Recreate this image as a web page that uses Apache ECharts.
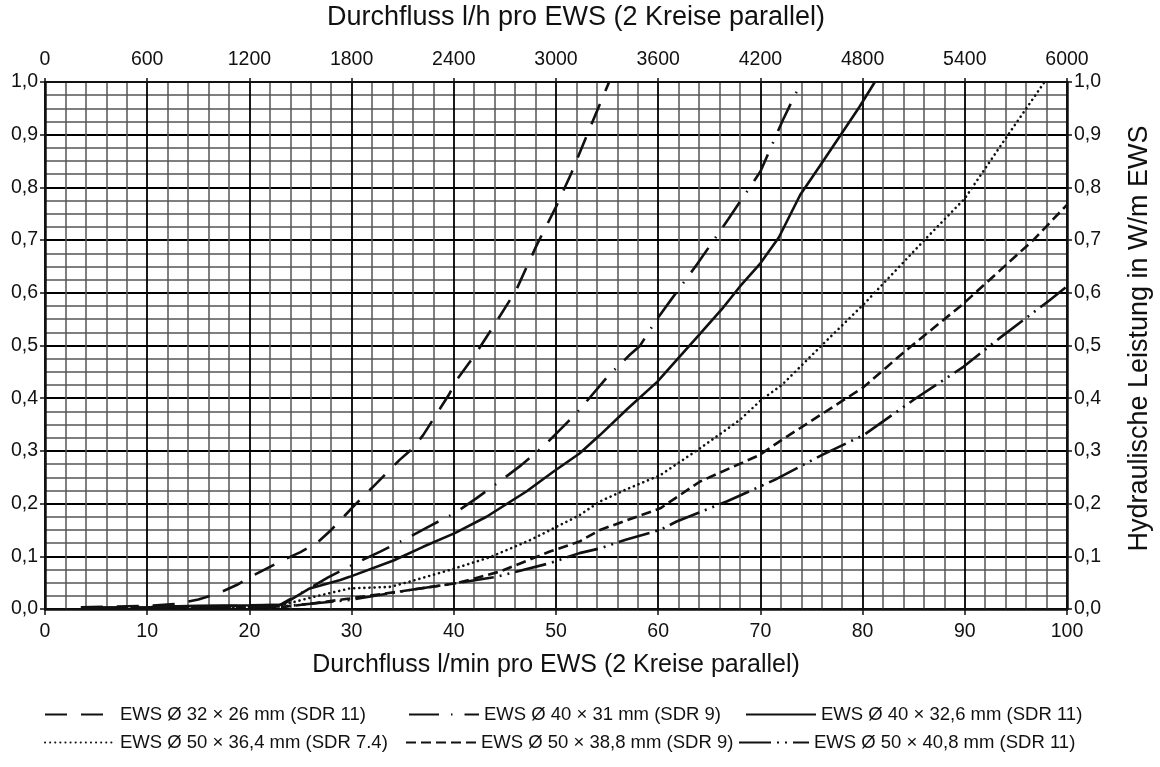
<!DOCTYPE html>
<html><head><meta charset="utf-8">
<script src="https://cdn.jsdelivr.net/npm/echarts@6/dist/echarts.min.js"></script>
<style>html,body{margin:0;padding:0;background:#fff}#c{width:1160px;height:767px}</style>
</head><body><div id="c"></div>
<script>
// ---- data ----
const bottomTicks = [0,10,20,30,40,50,60,70,80,90,100];
const topTicks = [0,600,1200,1800,2400,3000,3600,4200,4800,5400,6000];
const yTicks = [0,0.1,0.2,0.3,0.4,0.5,0.6,0.7,0.8,0.9,1.0];

const names = [
  'EWS Ø 32 × 26 mm (SDR 11)',
  'EWS Ø 40 × 31 mm (SDR 9)',
  'EWS Ø 40 × 32,6 mm (SDR 11)',
  'EWS Ø 50 × 36,4 mm (SDR 7.4)',
  'EWS Ø 50 × 38,8 mm (SDR 9)',
  'EWS Ø 50 × 40,8 mm (SDR 11)'
];

const s1 = [[3.5,0.003],[10,0.006],[13,0.01],[15,0.018],[17,0.03],[18.8,0.046],[20.2,0.062],[23,0.09],[25,0.108],[26.6,0.125],[28,0.15],[30.3,0.197],[32,0.23],[34.7,0.283],[36,0.305],[37,0.33],[39.5,0.406],[40.3,0.435],[42,0.48],[44,0.54],[46.1,0.605],[48.1,0.69],[50,0.763],[51.5,0.827],[53.3,0.912],[55.2,1.0]];
const s2 = [[5,0.002],[10,0.004],[15,0.005],[20,0.006],[23,0.008],[25.5,0.035],[27.7,0.06],[30.4,0.087],[32.8,0.109],[35.4,0.134],[37.5,0.156],[40.1,0.182],[42.2,0.21],[44.7,0.245],[46.6,0.273],[48.9,0.311],[50.7,0.346],[52.3,0.378],[55,0.44],[57.2,0.482],[58.2,0.499],[59.8,0.548],[61.3,0.588],[63.8,0.654],[66.9,0.741],[70,0.83],[72.2,0.928],[74,1.0]];
const s3 = [[11,0.004],[15,0.006],[20,0.007],[23.2,0.008],[25.9,0.039],[28.9,0.055],[29.8,0.061],[34.1,0.092],[37,0.118],[40.1,0.144],[43.2,0.175],[47.1,0.223],[49.7,0.26],[52.3,0.295],[54.3,0.33],[57,0.38],[59.9,0.431],[62.1,0.479],[64,0.52],[66.4,0.573],[68,0.612],[70,0.656],[71.8,0.705],[73.9,0.786],[75.8,0.84],[77.8,0.898],[79.7,0.953],[81.2,1.0]];
const s4 = [[4,0.002],[10,0.003],[15,0.004],[20,0.005],[23.3,0.008],[26.3,0.023],[29.8,0.039],[33.8,0.042],[35.7,0.052],[39.6,0.074],[43.5,0.098],[47.5,0.131],[52.3,0.178],[54.3,0.204],[57,0.228],[60.2,0.254],[64.1,0.305],[68,0.359],[70.1,0.397],[72.1,0.425],[76.2,0.504],[80.2,0.58],[85.9,0.697],[90,0.779],[94.1,0.896],[97.8,1.0]];
const s5 = [[4,0.002],[10,0.003],[15,0.003],[20,0.003],[23.3,0.004],[26,0.01],[29.8,0.02],[35.7,0.036],[40.3,0.049],[44.5,0.071],[49.4,0.109],[52.3,0.128],[54.3,0.15],[60.2,0.191],[64.1,0.242],[69.9,0.292],[72.1,0.321],[80.1,0.421],[83.9,0.485],[89.9,0.58],[96.7,0.70],[100,0.767]];
const s6 = [[4,0.002],[10,0.003],[15,0.003],[20,0.003],[23.3,0.005],[26,0.01],[29.8,0.017],[35.7,0.036],[40.3,0.049],[44.2,0.061],[49.4,0.087],[52.3,0.106],[54.3,0.115],[56.9,0.132],[60.2,0.15],[61.8,0.166],[66.7,0.204],[71.4,0.245],[76,0.292],[80.1,0.33],[85,0.397],[89.9,0.46],[93.4,0.514],[98.3,0.586],[100,0.612]];

// ---- chart ----
const FONT = "'Liberation Sans', Arial, sans-serif";
const INK = '#111';
const chart = echarts.init(document.getElementById('c'), null, {renderer: 'canvas'});
const fmt = v => v.toFixed(1).replace('.', ',');

const styles = [
  {type: [22, 14], width: 2.6},
  {type: [30, 12, 1.5, 12], width: 2.6},
  {type: 'solid', width: 2.6},
  {type: [0.1, 5], width: 2.6, cap: 'round'},
  {type: [10, 5], width: 2.6},
  {type: [32, 6, 2, 6, 2, 6], width: 2.6}
];
const datas = [s1, s2, s3, s4, s5, s6];

const legendPos = [
  {left: 44, top: 705}, {left: 408, top: 705}, {left: 745, top: 705},
  {left: 44, top: 733}, {left: 405, top: 733}, {left: 738, top: 733}
];

const option = {
  animation: false,
  backgroundColor: '#fff',
  textStyle: {fontFamily: FONT, color: INK},
  grid: {left: 45, right: 93, top: 82, bottom: 158, containLabel: false, outerBoundsMode: 'none'},
  legend: names.map((n, i) => ({
    data: [n], left: legendPos[i].left, top: legendPos[i].top, padding: 0,
    itemWidth: 70, itemHeight: 14, selectedMode: false,
    itemStyle: {opacity: 0},
    textStyle: {fontFamily: FONT, fontSize: 18.5, color: INK}
  })),
  xAxis: [
    {
      type: 'value', position: 'bottom', min: bottomTicks[0], max: bottomTicks[bottomTicks.length-1],
      interval: bottomTicks[1] - bottomTicks[0],
      name: 'Durchfluss l/min pro EWS (2 Kreise parallel)', nameLocation: 'middle', nameGap: 44,
      nameMoveOverlap: false,
      nameTextStyle: {fontFamily: FONT, fontSize: 25, color: INK},
      axisLine: {show: true, onZero: false, lineStyle: {color: INK, width: 2.5}},
      axisTick: {show: true, length: 6, lineStyle: {color: INK, width: 1.5}},
      axisLabel: {fontFamily: FONT, fontSize: 19.5, color: INK, margin: 13, formatter: v => String(v)},
      splitLine: {show: true, lineStyle: {color: '#000', width: 1.8}},
      minorTick: {show: false, splitNumber: 5},
      minorSplitLine: {show: true, lineStyle: {color: '#555', width: 1.5}}
    },
    {
      type: 'value', position: 'top', min: topTicks[0], max: topTicks[topTicks.length-1],
      interval: topTicks[1] - topTicks[0],
      name: 'Durchfluss l/h pro EWS (2 Kreise parallel)', nameLocation: 'middle', nameGap: 51,
      nameMoveOverlap: false,
      nameTextStyle: {fontFamily: FONT, fontSize: 27, color: INK, padding: [0, 0, 0, 40]},
      axisLine: {show: true, onZero: false, lineStyle: {color: INK, width: 2}},
      axisTick: {show: true, length: 4, lineStyle: {color: INK, width: 1.5}},
      axisLabel: {fontFamily: FONT, fontSize: 19.5, color: INK, margin: 12, formatter: v => String(v)},
      splitLine: {show: false}
    }
  ],
  yAxis: [
    {
      type: 'value', position: 'left', min: yTicks[0], max: yTicks[yTicks.length-1],
      interval: 0.1,
      axisLine: {show: true, onZero: false, lineStyle: {color: INK, width: 2.5}},
      axisTick: {show: true, length: 5, lineStyle: {color: INK, width: 1.5}},
      axisLabel: {fontFamily: FONT, fontSize: 19.5, color: INK, margin: 7, formatter: fmt},
      splitLine: {show: true, lineStyle: {color: '#000', width: 1.8}},
      minorTick: {show: false, splitNumber: 4},
      minorSplitLine: {show: true, lineStyle: {color: '#555', width: 1.5}}
    },
    {
      type: 'value', position: 'right', min: yTicks[0], max: yTicks[yTicks.length-1],
      interval: 0.1,
      name: 'Hydraulische Leistung in W/m EWS', nameLocation: 'middle', nameGap: 59, nameRotate: 90,
      nameMoveOverlap: false,
      nameTextStyle: {fontFamily: FONT, fontSize: 27, color: INK, padding: [0, 0, 0, 14]},
      axisLine: {show: true, onZero: false, lineStyle: {color: INK, width: 2.5}},
      axisTick: {show: true, length: 5, lineStyle: {color: INK, width: 1.5}},
      axisLabel: {fontFamily: FONT, fontSize: 19.5, color: INK, margin: 7, formatter: fmt},
      splitLine: {show: false}
    }
  ],
  series: names.map((n, i) => ({
    name: n, type: 'line', xAxisIndex: 0, yAxisIndex: 0,
    data: datas[i], symbol: 'none', showSymbol: false, smooth: false,
    clip: true,
    lineStyle: Object.assign({color: INK}, styles[i]),
    itemStyle: {color: INK},
    z: 5
  }))
};
chart.setOption(option);
</script></body></html>
